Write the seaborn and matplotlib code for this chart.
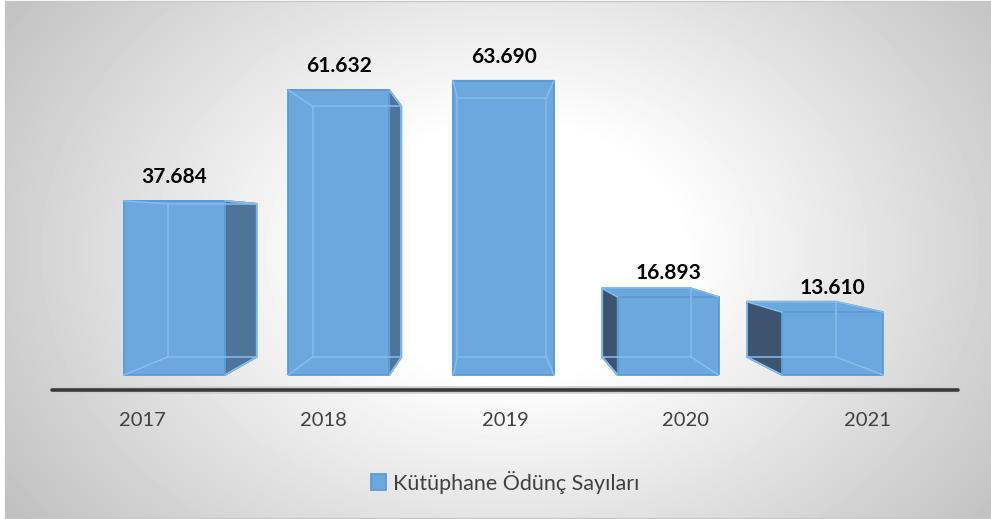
import numpy as np
import pandas as pd
import matplotlib.pyplot as plt
import seaborn as sns
from matplotlib.patches import Polygon

# --- data ---
years = ['2017', '2018', '2019', '2020', '2021']
loans = [37684, 61632, 63690, 16893, 13610]
value_labels = ['37.684', '61.632', '63.690', '16.893', '13.610']
series_name = 'Kütüphane Ödünç Sayıları'

df = pd.DataFrame({'Yıl': years, 'Ödünç': loans})

# --- style ---
FRONT = '#6ca7de'
EDGE = '#5b9bd5'
GLASS = '#88bdec'
DARK_R = '#4f7499'
DARK_L = '#3c546f'
TEXT = '#404040'

sns.set_theme(style='white')
plt.rcParams['font.family'] = ['Lato', 'DejaVu Sans']

fig = plt.figure(figsize=(9.91, 5.19), dpi=100)
fig.patch.set_facecolor('white')

# radial grey background
bg = fig.add_axes([5 / 991, 1 / 519, 986 / 991, 517 / 519])
h, w = 517, 986
yy, xx = np.mgrid[0:h, 0:w]
r = np.sqrt(((xx - 505) / 560.0) ** 2 + ((yy - 250) / 420.0) ** 2)
shade = 1 - 0.25 * np.clip((r - 0.3) / 0.8, 0, 1)
bg.imshow(shade, cmap='gray', vmin=0, vmax=1, aspect='auto', interpolation='bilinear')
bg.set_xticks([])
bg.set_yticks([])
for s in bg.spines.values():
    s.set_color('#c8c8c8')
    s.set_linewidth(1)

# main axes
ax = fig.add_axes([92 / 991, 144 / 519, 823 / 991, 323.4 / 519])
ax.set_facecolor('none')

sns.barplot(data=df, x='Yıl', y='Ödünç', width=0.613, color=FRONT, saturation=1,
            edgecolor=EDGE, linewidth=1.3, label=series_name, ax=ax, zorder=3)
ax.set_xlim(-0.5, 4.5)
ax.set_ylim(0, 70000)

# simple perspective: everything shrinks toward a vanishing point
VP = (1.915, 32500)
DEPTH = 0.88


def proj(x, y, s):
    return (VP[0] + s * (x - VP[0]), VP[1] + s * (y - VP[1]))


for p in ax.patches:
    x0 = p.get_x()
    x1 = x0 + p.get_width()
    y1 = p.get_height()
    f = [(x0, 0), (x1, 0), (x1, y1), (x0, y1)]
    b = [proj(x, y, DEPTH) for x, y in f]

    # lid and floor of the box
    ax.add_patch(Polygon([f[3], f[2], b[2], b[3]], fc=FRONT, ec=EDGE, lw=1.3, zorder=1.5, clip_on=False))
    ax.add_patch(Polygon([f[0], f[1], b[1], b[0]], fc=FRONT, ec=EDGE, lw=1.3, zorder=1.5, clip_on=False))

    # side faces
    if x1 < VP[0]:
        ax.add_patch(Polygon([f[1], f[2], b[2], b[1]], fc=DARK_R, ec=EDGE, lw=1.3, zorder=2, clip_on=False))
    elif x0 > VP[0]:
        ax.add_patch(Polygon([f[0], f[3], b[3], b[0]], fc=DARK_L, ec=EDGE, lw=1.3, zorder=2, clip_on=False))
    else:
        ax.add_patch(Polygon([f[1], f[2], b[2], b[1]], fc=FRONT, ec=EDGE, lw=1.3, zorder=2, clip_on=False))
        ax.add_patch(Polygon([f[0], f[3], b[3], b[0]], fc=FRONT, ec=EDGE, lw=1.3, zorder=2, clip_on=False))

    # hidden edges seen through the glass front
    ax.add_patch(Polygon(b, closed=True, fill=False, ec=GLASS, lw=1.1, zorder=3.5, clip_on=False))
    for fc_, bc_ in zip(f, b):
        ax.plot([fc_[0], bc_[0]], [fc_[1], bc_[1]], color=GLASS, lw=1.1, zorder=3.5, clip_on=False)

# value labels
for p, lbl in zip(ax.patches, value_labels):
    ax.annotate(lbl, (p.get_x() + p.get_width() / 2, p.get_height()),
                xytext=(0, 13), textcoords='offset points', ha='center', va='baseline',
                fontsize=15, fontweight='bold', color='black', zorder=5)

# floor front edge
left = proj(-0.5, 0, 1.1)
right = proj(4.5, 0, 1.1)
ax.plot([left[0], right[0]], [left[1], right[1]], color='#d0d0d0', lw=5.5,
        solid_capstyle='round', clip_on=False, zorder=0.5)
ax.plot([left[0], right[0]], [left[1], right[1]], color='#3a3a3a', lw=2.6,
        solid_capstyle='round', clip_on=False, zorder=4)

# category labels sit on the floor front
ax.set_xticks([proj(i, 0, 1.1)[0] for i in range(len(years))], years)
ax.tick_params(axis='x', length=0, pad=27, labelsize=14.5, labelcolor=TEXT)
ax.set_yticks([])
ax.set_xlabel('')
ax.set_ylabel('')
sns.despine(ax=ax, left=True, bottom=True)

leg = ax.legend(loc='center', bbox_to_anchor=(505 / 991, 1 - 482 / 519),
                bbox_transform=fig.transFigure, frameon=False, fontsize=15.5,
                handlelength=0.7, handleheight=0.7, handletextpad=0.3)
for t in leg.get_texts():
    t.set_color(TEXT)

fig.savefig('out.png', dpi=100)
